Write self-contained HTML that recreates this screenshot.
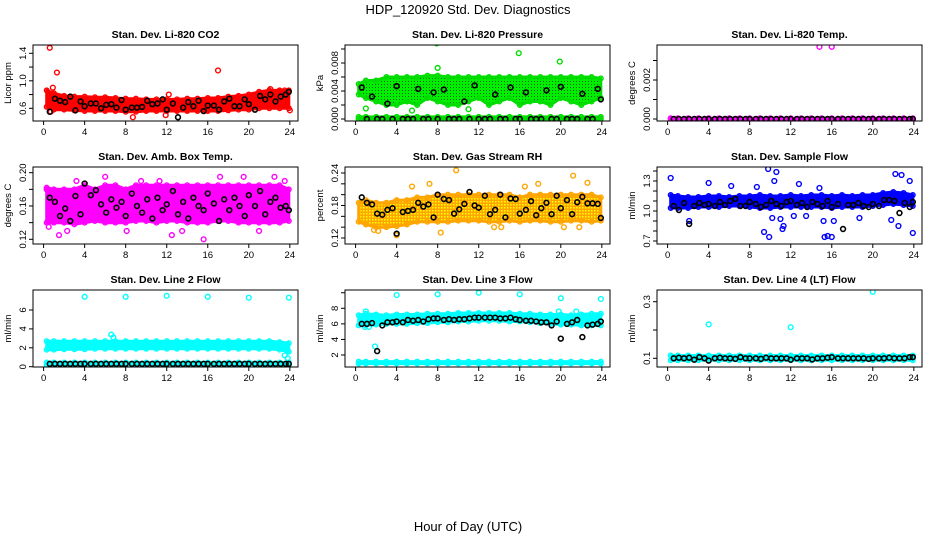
<!DOCTYPE html>
<html><head><meta charset="utf-8">
<style>
html,body{margin:0;padding:0;background:#fff;}
svg{display:block;font-family:"Liberation Sans",sans-serif;}
</style></head>
<body>
<svg id="chart" width="936" height="540" viewBox="0 0 936 540" xmlns="http://www.w3.org/2000/svg">
<defs>
<pattern id="rhpat" width="3" height="3" patternUnits="userSpaceOnUse"><rect width="3" height="3" fill="#ffa500"/><rect x="0" y="0" width="1.5" height="1.5" fill="#ffff00"/></pattern>
<pattern id="prpat" width="3" height="3" patternUnits="userSpaceOnUse"><rect width="3" height="3" fill="#00ee00"/><rect x="0" y="0" width="1" height="1" fill="#006400"/></pattern>
</defs>
<text x="468" y="14" text-anchor="middle" font-size="13">HDP_120920  Std. Dev. Diagnostics</text>
<text x="468" y="531" text-anchor="middle" font-size="13">Hour of Day (UTC)</text>
<g id="panels"></g>
</svg>
<script>
const H = [0.3,1,2,3,4,5,6,7,8,9,10,11,12,13,14,15,16,17,18,19,20,21,22,23,23.9];
const blkHours = [0.6,1.1,1.6,2.1,2.6,3.1,3.6,4.0,4.6,5.1,5.6,6.1,6.6,7.1,7.6,8.0,8.6,9.1,9.6,10.1,10.6,11.1,11.6,12.0,12.6,13.1,13.6,14.1,14.6,15.1,15.6,16.0,16.6,17.1,17.6,18.1,18.6,19.1,19.6,20.0,20.6,21.1,21.6,22.1,22.6,23.1,23.6,23.9];
const xTicks = [0,4,8,12,16,20,24];

const co2Lo = [0.62,0.58,0.58,0.57,0.56,0.56,0.56,0.56,0.55,0.55,0.56,0.56,0.56,0.56,0.56,0.56,0.56,0.56,0.57,0.58,0.58,0.6,0.6,0.6,0.6];
const co2Hi = [0.86,0.82,0.78,0.77,0.77,0.76,0.76,0.75,0.74,0.74,0.73,0.73,0.73,0.73,0.74,0.74,0.75,0.75,0.77,0.78,0.8,0.84,0.86,0.86,0.86];
const co2OutX = [0.6,1.3,0.9,17,8.7,12.2,22.1,23.5,24,11.9,0.7];
const co2OutY = [1.48,1.12,0.9,1.15,0.47,0.8,0.88,0.86,0.57,0.5,0.55];
const co2Blk = [0.55,0.74,0.71,0.69,0.77,0.57,0.7,0.63,0.67,0.67,0.6,0.65,0.66,0.61,0.72,0.58,0.61,0.61,0.62,0.71,0.66,0.67,0.73,0.58,0.67,0.47,0.61,0.69,0.63,0.71,0.56,0.64,0.64,0.58,0.7,0.74,0.63,0.63,0.73,0.66,0.58,0.78,0.73,0.8,0.7,0.77,0.8,0.84];

const presLo = [0.0035,0.003,0.0025,0.002,0.002,0.0025,0.002,0.003,0.0025,0.002,0.002,0.0025,0.003,0.002,0.0025,0.003,0.002,0.0025,0.0025,0.002,0.003,0.0025,0.002,0.0025,0.003];
const presHi = [0.005,0.0055,0.0055,0.006,0.006,0.006,0.006,0.0062,0.0062,0.006,0.006,0.006,0.006,0.006,0.006,0.006,0.006,0.006,0.006,0.006,0.006,0.006,0.006,0.006,0.0058];
const presBaseLo = [0,0,0,0,0,0,0,0,0,0,0,0,0,0,0,0,0,0,0,0,0,0,0,0,0];
const presBaseHi = [0.0003,0.0003,0.0003,0.0003,0.0003,0.0003,0.0003,0.0003,0.0003,0.0003,0.0003,0.0003,0.0003,0.0003,0.0003,0.0003,0.0003,0.0003,0.0003,0.0003,0.0003,0.0003,0.0003,0.0003,0.0003];
const presOutX = [7.9,15.9,19.9,23.9,8.0,1.0,5.5,11.0];
const presOutY = [0.0108,0.0094,0.0082,0.0111,0.0073,0.0015,0.0012,0.0014];
const presBlk = [0.0045,0,0.0032,0,0,0.0022,0,0.0047,0,0,0,0.0043,0,0,0.0038,0,0.0042,0,0,0,0.0025,0,0.0048,0,0,0,0.0035,0,0,0.0045,0,0,0.0038,0,0,0,0.0041,0,0,0.0046,0,0,0,0.0036,0,0,0.0043,0.0028];

const tempLo = [0,0,0,0,0,0,0,0,0,0,0,0,0,0,0,0,0,0,0,0,0,0,0,0,0];
const tempHi = [0.00004,0.00004,0.00004,0.00004,0.00004,0.00004,0.00004,0.00004,0.00004,0.00004,0.00004,0.00004,0.00004,0.00004,0.00004,0.00004,0.00004,0.00004,0.00004,0.00004,0.00004,0.00004,0.00004,0.00004,0.00004];
const tempOutX = [14.8,16.0];
const tempOutY = [0.0037,0.0037];
const tempBlk = [0,0,0,0,0,0,0,0,0,0,0,0,0,0,0,0,0,0,0,0,0,0,0,0,0,0,0,0,0,0,0,0,0,0,0,0,0,0,0,0,0,0,0,0,0,0,0,0];

const ambLo = [0.14,0.14,0.14,0.138,0.14,0.142,0.14,0.14,0.14,0.142,0.142,0.14,0.142,0.142,0.14,0.14,0.14,0.142,0.142,0.14,0.14,0.14,0.14,0.14,0.142];
const ambHi = [0.182,0.18,0.18,0.18,0.185,0.18,0.185,0.185,0.18,0.185,0.185,0.185,0.185,0.185,0.185,0.185,0.185,0.185,0.185,0.185,0.185,0.185,0.185,0.185,0.18];
const ambOutX = [0.5,1.5,2.3,4.8,6,8.1,11.3,13.5,15.6,17.2,19.5,21,22.5,23.5,9.5,3.2,0.3,12.5];
const ambOutY = [0.135,0.125,0.13,0.145,0.195,0.13,0.19,0.13,0.12,0.195,0.195,0.13,0.195,0.19,0.19,0.19,0.18,0.125];
const ambBlk = [0.17,0.165,0.148,0.157,0.142,0.172,0.150,0.187,0.173,0.179,0.162,0.152,0.168,0.158,0.165,0.148,0.175,0.16,0.152,0.168,0.145,0.17,0.155,0.162,0.178,0.15,0.165,0.145,0.17,0.16,0.155,0.175,0.163,0.142,0.168,0.155,0.17,0.16,0.148,0.173,0.16,0.178,0.15,0.165,0.17,0.158,0.16,0.155];

const rhLo = [0.15,0.145,0.14,0.14,0.142,0.145,0.15,0.15,0.15,0.15,0.152,0.152,0.152,0.15,0.15,0.152,0.15,0.152,0.152,0.15,0.15,0.152,0.152,0.15,0.152];
const rhHi = [0.185,0.19,0.185,0.185,0.19,0.19,0.195,0.195,0.2,0.2,0.2,0.2,0.2,0.2,0.2,0.2,0.195,0.2,0.2,0.2,0.2,0.2,0.2,0.2,0.195];
const rhOutX = [9.8,4.0,5.5,7.2,1.8,2.2,16.5,17.8,21.2,21.8,22.6,20.3,14.2,13.5,8.3];
const rhOutY = [0.245,0.125,0.215,0.22,0.135,0.133,0.215,0.22,0.235,0.14,0.222,0.14,0.14,0.14,0.13];
const rhBlk = [0.195,0.185,0.182,0.165,0.163,0.172,0.175,0.128,0.168,0.17,0.172,0.185,0.178,0.182,0.158,0.2,0.192,0.19,0.165,0.173,0.183,0.205,0.18,0.176,0.198,0.164,0.172,0.2,0.158,0.193,0.192,0.165,0.172,0.188,0.162,0.175,0.185,0.164,0.198,0.175,0.19,0.164,0.186,0.196,0.184,0.184,0.183,0.157];

const flowLo = [1.03,1.03,1.03,1.04,1.04,1.04,1.05,1.05,1.04,1.03,1.03,1.04,1.04,1.04,1.04,1.04,1.03,1.04,1.04,1.04,1.05,1.06,1.07,1.06,1.05];
const flowHi = [1.16,1.15,1.14,1.14,1.15,1.15,1.14,1.15,1.15,1.16,1.15,1.15,1.16,1.15,1.16,1.16,1.15,1.16,1.15,1.16,1.16,1.18,1.19,1.18,1.16];
const flowOutX = [0.3,4,9.8,10.6,10.4,8.7,10.2,9.4,9.9,11.2,11.3,11,16,15.3,15.6,16.2,15.2,22.2,22.8,23.6,23.9,22.5,21.8,18.7,13.5,12.3,6.2,2.1,12.8,14.8];
const flowOutY = [1.33,1.28,1.42,1.39,1.3,1.24,0.93,0.79,0.74,0.82,0.85,0.92,0.74,0.74,0.75,0.9,0.9,1.37,1.36,1.3,0.78,0.85,0.91,0.93,0.95,0.95,1.25,0.9,1.27,1.23];
const flowBlk = [1.05,1.01,1.08,0.87,1.05,1.08,1.06,1.07,1.05,1.09,1.06,1.1,1.12,1.05,1.05,1.09,1.07,1.04,1.06,1.1,1.07,1.05,1.09,1.1,1.06,1.08,1.04,1.09,1.07,1.05,1.1,1.04,1.07,0.82,1.06,1.06,1.08,1.05,1.04,1.07,1.05,1.11,1.11,1.1,0.98,1.08,1.04,1.09];

const l2Lo = [1.8,1.8,1.85,1.85,1.85,1.9,1.9,1.9,1.9,1.9,1.9,1.9,1.9,1.9,1.9,1.9,1.9,1.9,1.9,1.9,1.9,1.9,1.9,1.8,1.6];
const l2Hi = [2.7,2.7,2.7,2.7,2.7,2.7,2.7,2.7,2.7,2.7,2.7,2.7,2.7,2.7,2.7,2.7,2.7,2.7,2.7,2.7,2.7,2.7,2.7,2.6,2.5];
const l2BaseLo = [0.2,0.2,0.2,0.2,0.2,0.2,0.2,0.2,0.2,0.2,0.2,0.2,0.2,0.2,0.2,0.2,0.2,0.2,0.2,0.2,0.2,0.2,0.2,0.2,0.2];
const l2BaseHi = [0.45,0.45,0.45,0.45,0.45,0.45,0.45,0.45,0.45,0.45,0.45,0.45,0.45,0.45,0.45,0.45,0.45,0.45,0.45,0.45,0.45,0.45,0.45,0.45,0.45];
const l2OutX = [4,8,12,16,20,23.9,6.6,6.8,23.5,23.8];
const l2OutY = [7.4,7.4,7.5,7.4,7.3,7.3,3.4,3.1,1.2,0.9];
const l2Blk = [0.3,0.3,0.3,0.3,0.3,0.3,0.3,0.3,0.3,0.3,0.3,0.3,0.3,0.3,0.3,0.3,0.3,0.3,0.3,0.3,0.3,0.3,0.3,0.3,0.3,0.3,0.3,0.3,0.3,0.3,0.3,0.3,0.3,0.3,0.3,0.3,0.3,0.3,0.3,0.3,0.3,0.3,0.3,0.3,0.3,0.3,0.3,0.3];

const l3Lo = [5.8,5.8,5.9,6.0,6.0,6.0,6.1,6.1,6.2,6.2,6.3,6.3,6.4,6.4,6.4,6.3,6.3,6.2,6.1,6.0,5.9,5.9,5.8,5.8,5.8];
const l3Hi = [7.1,7.3,7.2,7.1,7.2,7.2,7.2,7.3,7.3,7.3,7.4,7.4,7.4,7.4,7.4,7.4,7.3,7.3,7.2,7.2,7.2,7.1,7.2,7.3,7.3];
const l3BaseLo = [0.9,0.9,0.9,0.9,0.9,0.9,0.9,0.9,0.9,0.9,0.9,0.9,0.9,0.9,0.9,0.9,0.9,0.9,0.9,0.9,0.9,0.9,0.9,0.9,0.9];
const l3BaseHi = [1.15,1.15,1.15,1.15,1.15,1.15,1.15,1.15,1.15,1.15,1.15,1.15,1.15,1.15,1.15,1.15,1.15,1.15,1.15,1.15,1.15,1.15,1.15,1.15,1.15];
const l3OutX = [4,8,12,16,20,23.9,1.9,1.0,19.8,21.5,0.9,1.3];
const l3OutY = [9.7,9.8,10.0,9.8,9.3,9.2,3.1,7.6,7.6,7.6,5.6,5.6];
const l3Blk = [6.0,6.0,6.1,2.5,5.8,6.2,6.2,6.3,6.2,6.5,6.4,6.5,6.3,6.6,6.7,6.7,6.5,6.6,6.5,6.6,6.6,6.7,6.8,6.8,6.8,6.8,6.8,6.7,6.7,6.8,6.6,6.5,6.4,6.4,6.3,6.2,6.2,5.8,6.3,4.1,6.0,6.2,6.5,4.3,5.8,5.9,6.0,6.3];

const l4Lo = [0.093,0.093,0.093,0.093,0.093,0.093,0.093,0.093,0.093,0.093,0.093,0.093,0.093,0.093,0.093,0.093,0.093,0.093,0.093,0.093,0.093,0.093,0.093,0.093,0.093];
const l4Hi = [0.11,0.11,0.11,0.11,0.11,0.11,0.11,0.11,0.11,0.11,0.11,0.11,0.11,0.11,0.11,0.11,0.11,0.11,0.11,0.11,0.11,0.11,0.11,0.11,0.11];
const l4OutX = [4,12,20];
const l4OutY = [0.22,0.21,0.335];
const l4Blk = [0.1,0.102,0.1,0.102,0.095,0.104,0.1,0.092,0.1,0.102,0.1,0.1,0.098,0.104,0.1,0.1,0.1,0.098,0.102,0.1,0.1,0.1,0.1,0.095,0.1,0.1,0.1,0.096,0.1,0.1,0.102,0.104,0.1,0.1,0.1,0.1,0.1,0.1,0.098,0.1,0.1,0.1,0.102,0.1,0.1,0.1,0.104,0.104];

const NS = "http://www.w3.org/2000/svg";
const root = document.getElementById('panels');
function mk(tag, attrs, parent){const e=document.createElementNS(NS,tag);for(const k in attrs)e.setAttribute(k,attrs[k]);parent.appendChild(e);return e;}

const panels = [
 {key:'co2',title:'Stan. Dev. Li-820 CO2',ylab:'Licor ppm',col:0,row:0,color:'#ff0000',fill:'#ff0000',
  v1:0.6,p1:108.3,v2:1.4,p2:53.3,ticks:[0.6,0.8,1.0,1.2,1.4],labs:['0.6','1.0','1.4'],labV:[0.6,1.0,1.4],
  bands:[[co2Lo,co2Hi]],ox:co2OutX,oy:co2OutY,blk:co2Blk},
 {key:'pressure',title:'Stan. Dev. Li-820 Pressure',ylab:'kPa',col:1,row:0,color:'#00dd00',fill:'url(#prpat)',
  v1:0,p1:119,v2:0.008,p2:63,ticks:[0,0.002,0.004,0.006,0.008,0.010],labs:['0.000','0.004','0.008'],labV:[0,0.004,0.008],
  bands:[[presBaseLo,presBaseHi],[presLo,presHi]],ox:presOutX,oy:presOutY,blk:presBlk},
 {key:'temp',title:'Stan. Dev. Li-820 Temp.',ylab:'degrees C',col:2,row:0,color:'#ff00ff',fill:'#ff00ff',
  v1:0,p1:119,v2:0.002,p2:80,ticks:[0,0.001,0.002,0.003],labs:['0.000','0.002'],labV:[0,0.002],
  bands:[[tempLo,tempHi]],ox:tempOutX,oy:tempOutY,blk:tempBlk},
 {key:'ambtemp',title:'Stan. Dev. Amb. Box Temp.',ylab:'degrees C',col:0,row:1,color:'#ff00ff',fill:'#ff00ff',
  v1:0.12,p1:239.3,v2:0.20,p2:172.7,ticks:[0.12,0.14,0.16,0.18,0.20],labs:['0.12','0.16','0.20'],labV:[0.12,0.16,0.20],
  bands:[[ambLo,ambHi]],ox:ambOutX,oy:ambOutY,blk:ambBlk},
 {key:'rh',title:'Stan. Dev. Gas Stream RH',ylab:'percent',col:1,row:1,color:'#ffa500',fill:'url(#rhpat)',
  v1:0.12,p1:238,v2:0.24,p2:173,ticks:[0.12,0.14,0.16,0.18,0.20,0.22,0.24],labs:['0.12','0.18','0.24'],labV:[0.12,0.18,0.24],
  bands:[[rhLo,rhHi]],ox:rhOutX,oy:rhOutY,blk:rhBlk},
 {key:'sampleflow',title:'Stan. Dev. Sample Flow',ylab:'ml/min',col:2,row:1,color:'#0000ff',fill:'#0000ff',
  v1:0.7,p1:241,v2:1.3,p2:181,ticks:[0.7,0.8,0.9,1.0,1.1,1.2,1.3,1.4],labs:['0.7','1.0','1.3'],labV:[0.7,1.0,1.3],
  bands:[[flowLo,flowHi]],ox:flowOutX,oy:flowOutY,blk:flowBlk},
 {key:'line2',title:'Stan. Dev. Line 2 Flow',ylab:'ml/min',col:0,row:2,color:'#00ffff',fill:'#00ffff',
  v1:0,p1:366.7,v2:6,p2:310,ticks:[0,2,4,6],labs:['0','2','4','6'],labV:[0,2,4,6],
  bands:[[l2BaseLo,l2BaseHi],[l2Lo,l2Hi]],ox:l2OutX,oy:l2OutY,blk:l2Blk},
 {key:'line3',title:'Stan. Dev. Line 3 Flow',ylab:'ml/min',col:1,row:2,color:'#00ffff',fill:'#00ffff',
  v1:2,p1:355,v2:8,p2:308.3,ticks:[2,4,6,8,10],labs:['2','4','6','8'],labV:[2,4,6,8],
  bands:[[l3BaseLo,l3BaseHi],[l3Lo,l3Hi]],ox:l3OutX,oy:l3OutY,blk:l3Blk},
 {key:'line4',title:'Stan. Dev. Line 4 (LT) Flow',ylab:'ml/min',col:2,row:2,color:'#00ffff',fill:'#00ffff',
  v1:0.1,p1:358.3,v2:0.3,p2:301.7,ticks:[0.1,0.2,0.3,0.4],labs:['0.1','0.3'],labV:[0.1,0.3],
  bands:[[l4Lo,l4Hi]],ox:l4OutX,oy:l4OutY,blk:l4Blk}
];

const rowTop=[45,167,290], rowBot=[121,244,367];
panels.forEach(p=>{
  const L=33+312*p.col, R=L+265, T=rowTop[p.row], B=rowBot[p.row];
  const x0=43.6+312*p.col, xs=10.26;
  const X=h=>x0+h*xs;
  const Y=v=>p.p1+(v-p.v1)*(p.p2-p.p1)/(p.v2-p.v1);
  const g=mk('g',{},root);
  
  
  const cp='clip-'+p.key;
  const c=mk('clipPath',{id:cp},g); mk('rect',{x:L,y:T,width:R-L,height:B-T},c);
  const t=mk('text',{x:(L+R)/2,y:T-7,'text-anchor':'middle','font-size':'10.5','font-weight':'bold'},g);
  t.textContent=p.title;
  
  
  const yl=mk('text',{x:0,y:0,'text-anchor':'middle','font-size':'9.5',transform:`translate(${L-22},${(T+B)/2}) rotate(-90)`},g);
  yl.textContent=p.ylab;
  
  
  const pg=mk('g',{'clip-path':`url(#${cp})`},g);
  p.bands.forEach(([lo,hi])=>{
    let d='';
    H.forEach((h,i)=>{d+=(i?'L':'M')+X(h).toFixed(1)+','+Y(hi[i]).toFixed(1);});
    for(let i=H.length-1;i>=0;i--) d+='L'+X(H[i]).toFixed(1)+','+Y(lo[i]).toFixed(1);
    const band=mk('path',{d:d+'Z',fill:p.fill,stroke:p.color,'stroke-width':3,'stroke-linejoin':'round'},pg);
    
    
    H.forEach((h,i)=>{
      [lo[i],hi[i]].forEach(v=>{
        const cc=mk('circle',{cx:X(h),cy:Y(v),r:2.3,fill:'none',stroke:p.color,'stroke-width':1.4},pg);
        
        
      });
    });
  });
  p.ox.forEach((h,i)=>{
    const cc=mk('circle',{cx:X(h),cy:Y(p.oy[i]),r:2.4,fill:'none',stroke:p.color,'stroke-width':1.4},pg);
    
    
  });
  blkHours.forEach((h,i)=>{
    const cc=mk('circle',{cx:X(h),cy:Y(p.blk[i]),r:2.4,fill:'none',stroke:'#000','stroke-width':1.6},pg);
    
    
  });
  const bx=mk('rect',{x:L,y:T,width:R-L,height:B-T,fill:'none',stroke:'#000','stroke-width':1},g);
  
  
  mk('line',{x1:X(0),x2:X(24),y1:B,y2:B,stroke:'#000'},g);
  xTicks.forEach(v=>{
    mk('line',{x1:X(v),x2:X(v),y1:B,y2:B+4,stroke:'#000'},g);
    const tl=mk('text',{x:X(v),y:B+14,'text-anchor':'middle','font-size':'9.5'},g);
    tl.textContent=v;
    
    
  });
  const yt=p.ticks.map(Y).filter(y=>y>=T-1&&y<=B+1);
  mk('line',{x1:L,x2:L,y1:Math.min(...yt),y2:Math.max(...yt),stroke:'#000'},g);
  p.ticks.forEach(v=>{const y=Y(v); if(y<T-1||y>B+1)return; mk('line',{x1:L-4,x2:L,y1:y,y2:y,stroke:'#000'},g);});
  p.labs.forEach((s,i)=>{
    const y=Y(p.labV[i]);
    const tl=mk('text',{x:0,y:0,'text-anchor':'middle','font-size':'9.5',transform:`translate(${L-7},${y}) rotate(-90)`},g);
    tl.textContent=s;
    
    
  });
});
</script>
</body></html>
